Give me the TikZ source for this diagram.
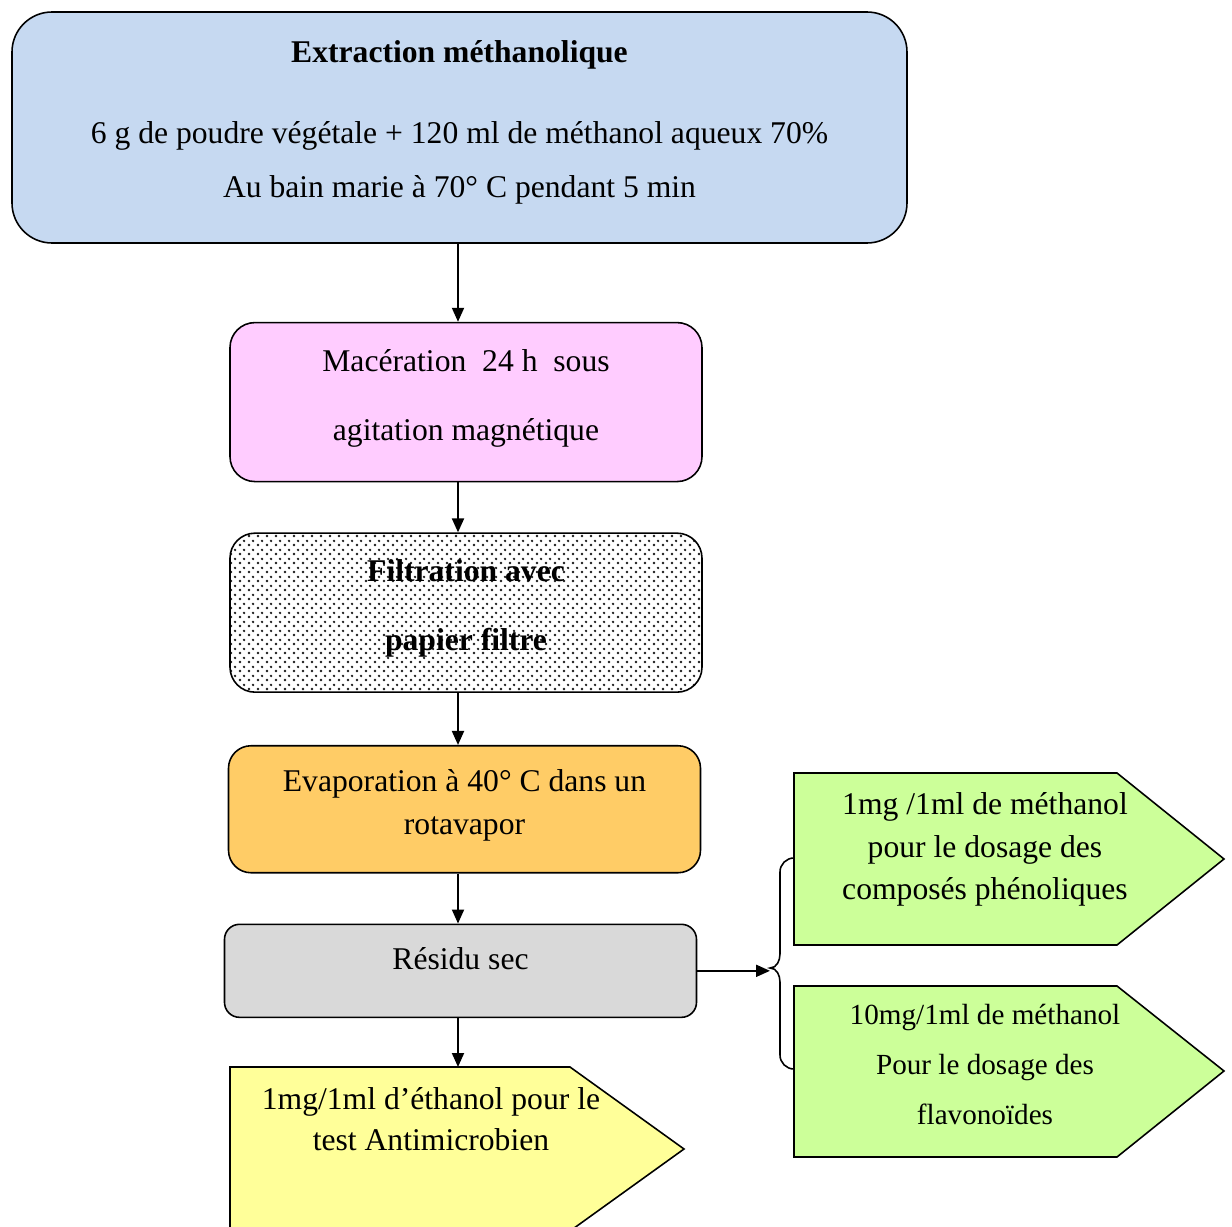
\documentclass[tikz,border=0pt]{standalone}
\usepackage{fontspec}
\setmainfont{Liberation Serif}
\usetikzlibrary{positioning,patterns.meta,backgrounds,arrows.meta}

\definecolor{extrblue}{HTML}{C6D9F1}
\definecolor{macerpink}{HTML}{FFCCFF}
\definecolor{evaporange}{HTML}{FFCC66}
\definecolor{resgrey}{HTML}{D9D9D9}
\definecolor{testyellow}{HTML}{FFFF99}
\definecolor{dosgreen}{HTML}{CCFF99}

\tikzdeclarepattern{
  name=filterdots,
  type=uncolored,
  bounding box={(0,0) and (0.17,0.17)},
  tile size={(0.17,0.17)},
  code={
    \fill (0.0425,0.0425) circle (0.027);
    \fill (0.1275,0.1275) circle (0.027);
  }
}

\begin{document}
\begin{tikzpicture}[
    node distance=1cm,
    >={Stealth[length=0.28cm, width=0.24cm, inset=0pt]},
    every node/.style={font=\fontsize{18}{22}\selectfont, align=center, inner sep=0pt},
    stepbox/.style={draw, line width=0.9pt, rounded corners=0.5cm,
      minimum width=9.44cm},
    arrowbox/.style={draw, line width=0.9pt},
    link/.style={->, line width=1.1pt}
  ]
  \useasboundingbox (0,0) rectangle (24.64,-24.54);
  \coordinate (spine) at (9.16,0);

  % main chain
  \node (extr) [stepbox, fill=extrblue, minimum width=17.9cm, minimum height=4.62cm,
    rounded corners=0.8cm, text depth=0.33cm] at (9.19,-2.55)
    {\textbf{Extraction méthanolique}\\[0.84cm]
     6 g de poudre végétale + 120 ml de méthanol aqueux 70\%\\[0.32cm]
     Au bain marie à 70° C pendant 5 min};
  \node (macer) [stepbox, fill=macerpink, minimum height=3.18cm, text depth=0.27cm,
    below=1.56cm of extr, xshift=0.13cm]
    {Macération~ 24 h~ sous\\[0.6cm] agitation magnétique};
  \node (filt) [stepbox, pattern={filterdots}, pattern color=black!90, minimum height=3.18cm,
    text depth=0.31cm, below=1.0cm of macer]
    {\textbf{Filtration avec}\\[0.6cm] \textbf{papier filtre}};
  \node (evap) [stepbox, fill=evaporange, rounded corners=0.45cm, minimum height=2.54cm,
    text depth=0.29cm, below=1.04cm of filt, xshift=-0.03cm]
    {Evaporation à 40° C dans un\\[0.1cm] rotavapor};
  \node (res) [stepbox, fill=resgrey, rounded corners=0.3cm, minimum height=1.86cm,
    text depth=0.49cm, below=1.0cm of evap, xshift=-0.08cm] {Résidu sec};

  % pentagon labels
  \node (anti) at (8.62,-22.38) {1mg/1ml d’éthanol pour le\\[0.06cm] test Antimicrobien};
  \node (phen) at (19.7,-16.99)
    {1mg /1ml de méthanol\\[0.07cm] pour le dosage des\\[0.07cm] composés phénoliques};
  \node (flav) [font=\fontsize{16.6}{20}\selectfont] at (19.7,-21.29)
    {10mg/1ml de méthanol\\[0.3cm] Pour le dosage des\\[0.3cm] flavonoïdes};
  \coordinate (anti-in) at (9.16,-21.34);
  \coordinate (phen-in) at (15.88,-17.16);
  \coordinate (flav-in) at (15.88,-21.38);
  \coordinate (fork) at (15.4,-19.36);

  \begin{scope}[on background layer]
    \draw[arrowbox, fill=testyellow] (4.6,-21.34) -- (11.4,-21.34) -- (13.68,-22.98)
      -- (11.4,-24.62) -- (4.6,-24.62) -- cycle;
    \draw[arrowbox, fill=dosgreen] (15.88,-15.46) -- (22.34,-15.46) -- (24.48,-17.18)
      -- (22.34,-18.9) -- (15.88,-18.9) -- cycle;
    \draw[arrowbox, fill=dosgreen] (15.88,-19.72) -- (22.34,-19.72) -- (24.48,-21.42)
      -- (22.34,-23.14) -- (15.88,-23.14) -- cycle;
  \end{scope}

  % connectors
  \draw[link] (extr.south -| spine) -- (macer.north -| spine);
  \draw[link] (macer.south -| spine) -- (filt.north -| spine);
  \draw[link] (filt.south -| spine) -- (evap.north -| spine);
  \draw[link] (evap.south -| spine) -- (res.north -| spine);
  \draw[link] (res.south -| spine) -- (anti-in);
  \draw[link] (res.east) -- (res.east -| fork);

  % brace
  \draw[line width=0.9pt] (phen-in) to[out=180,in=90] (15.6,-17.44) -- (15.6,-19.08)
    to[out=-90,in=0] (fork) to[out=0,in=90] (15.6,-19.64) -- (15.6,-21.1)
    to[out=-90,in=180] (flav-in);
\end{tikzpicture}
\end{document}
